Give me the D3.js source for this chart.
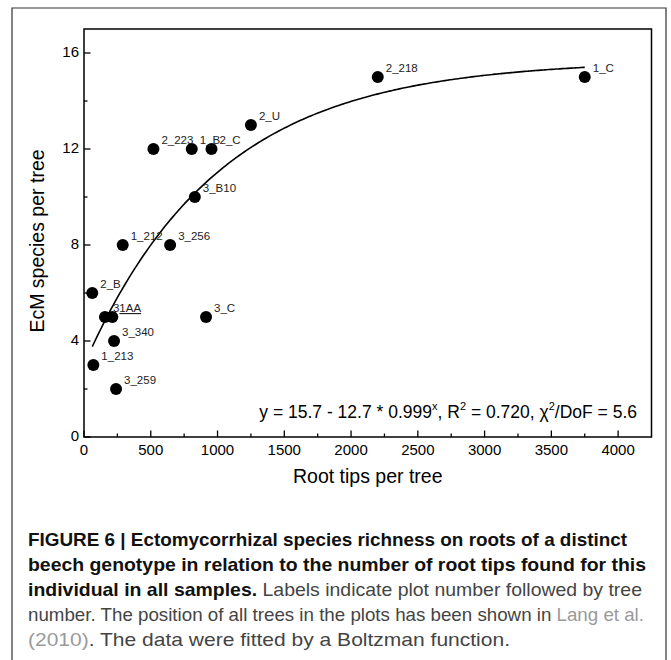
<!DOCTYPE html>
<html>
<head>
  <meta charset="utf-8">
  <script src="https://d3js.org/d3.v7.min.js"></script>
  <style>
    body { margin: 0; background: #fff; }
    svg { display: block; }
    .chart text { font-family: "Liberation Sans", Arial, sans-serif; fill: #000; }
    .caption text { font-family: "Liberation Sans Narrow", "Liberation Sans", Arial, sans-serif; font-size: 18.5px; }
  </style>
</head>
<body>
  <svg id="fig" width="671" height="660"></svg>
  <script>
    // data
    const treeLabels = ["2_218", "1_C", "2_U", "2_223", "1_B", "2_C", "3_B10", "1_212", "3_256", "2_B", "31AA", "", "3_C", "3_340", "1_213", "3_259"];
    const rootTips   = [2200, 3750, 1250, 520, 807, 955, 830, 290, 645, 62, 157, 212, 914, 225, 70, 240];
    const species    = [15, 15, 13, 12, 12, 12, 10, 8, 8, 6, 5, 5, 5, 4, 3, 2];

    const xTicks = [0, 500, 1000, 1500, 2000, 2500, 3000, 3500, 4000];
    const yTicks = [0, 4, 8, 12, 16];

    // Boltzman fit printed on the chart: y = 15.7 - 12.7 * 0.999^x
    const fitA = 15.7, fitB = 12.7, fitBase = 0.999;
    const fitRange = [62, 3750];

    const svg = d3.select("#fig");

    // outer frame (open at the bottom)
    svg.append("path")
      .attr("d", "M12,662 V8 H666 V662")
      .attr("fill", "none")
      .attr("stroke", "#333")
      .attr("stroke-width", 1.2);

    const pLeft = 84, pRight = 651.5, pTop = 29, pBottom = 437;

    const x = d3.scaleLinear().domain([0, 4250]).range([pLeft, pRight]);
    const y = d3.scaleLinear().domain([0, 17]).range([pBottom, pTop]);

    const g = svg.append("g").attr("class", "chart");

    // plot box
    g.append("rect")
      .attr("x", pLeft).attr("y", pTop)
      .attr("width", pRight - pLeft).attr("height", pBottom - pTop)
      .attr("fill", "none").attr("stroke", "#000").attr("stroke-width", 1.5);

    // x axis: inward ticks, minor every 250
    const xAxis = g.append("g").attr("transform", `translate(0,${pBottom})`);
    xAxis.selectAll("line.minor")
      .data(d3.range(250, 4250, 500))
      .join("line")
        .attr("x1", d => x(d)).attr("x2", d => x(d))
        .attr("y1", 0).attr("y2", -3.5)
        .attr("stroke", "#000").attr("stroke-width", 1.3);
    xAxis.selectAll("line.major")
      .data(xTicks)
      .join("line")
        .attr("x1", d => x(d)).attr("x2", d => x(d))
        .attr("y1", 0).attr("y2", -6.5)
        .attr("stroke", "#000").attr("stroke-width", 1.3);
    xAxis.selectAll("text")
      .data(xTicks)
      .join("text")
        .attr("x", d => x(d))
        .attr("y", 17.5)
        .attr("text-anchor", "middle")
        .style("font-size", "15px")
        .text(d => d);

    // y axis: inward ticks, minor every 2
    const yAxis = g.append("g").attr("transform", `translate(${pLeft},0)`);
    yAxis.selectAll("line.minor")
      .data(d3.range(2, 17, 4))
      .join("line")
        .attr("y1", d => y(d)).attr("y2", d => y(d))
        .attr("x1", 0).attr("x2", 3.5)
        .attr("stroke", "#000").attr("stroke-width", 1.3);
    yAxis.selectAll("line.major")
      .data(yTicks)
      .join("line")
        .attr("y1", d => y(d)).attr("y2", d => y(d))
        .attr("x1", 0).attr("x2", 6.5)
        .attr("stroke", "#000").attr("stroke-width", 1.3);
    yAxis.selectAll("text")
      .data(yTicks)
      .join("text")
        .attr("x", -5)
        .attr("y", d => y(d) - 1)
        .attr("dy", "0.35em")
        .attr("text-anchor", "end")
        .style("font-size", "15px")
        .text(d => d);

    // axis titles
    g.append("text")
      .attr("x", (pLeft + pRight) / 2)
      .attr("y", 483)
      .attr("text-anchor", "middle")
      .style("font-size", "19.5px")
      .text("Root tips per tree");
    g.append("text")
      .attr("transform", `translate(44,${(pTop + pBottom) / 2 + 8}) rotate(-90)`)
      .attr("text-anchor", "middle")
      .style("font-size", "19.5px")
      .text("EcM species per tree");

    // fitted curve
    const fitX = d3.range(fitRange[0], fitRange[1], 20).concat([fitRange[1]]);
    const line = d3.line()
      .x(d => x(d))
      .y(d => y(fitA - fitB * Math.pow(fitBase, d)))
      .curve(d3.curveMonotoneX);
    g.append("path")
      .datum(fitX)
      .attr("d", line)
      .attr("fill", "none")
      .attr("stroke", "#000")
      .attr("stroke-width", 1.6);

    // points
    const pts = rootTips.map((v, i) => ({ x: v, y: species[i], label: treeLabels[i] }));
    g.append("g")
      .selectAll("circle")
      .data(pts)
      .join("circle")
        .attr("cx", d => x(d.x))
        .attr("cy", d => y(d.y))
        .attr("r", 6)
        .attr("fill", "#000");

    g.append("g")
      .selectAll("text")
      .data(pts.filter(d => d.label))
      .join("text")
        .attr("x", d => x(d.x) + 8)
        .attr("y", d => y(d.y) - 5)
        .style("font-size", "11.5px")
        .style("fill", "#222")
        .each(function(d) {
          const t = d3.select(this);
          if (d.label === "31AA") {
            t.append("tspan").text("3");
            t.append("tspan").style("text-decoration", "underline").text("1AA");
          } else {
            t.text(d.label);
          }
        });

    // fit equation
    const eq = g.append("text")
      .attr("x", 637)
      .attr("y", 418)
      .attr("text-anchor", "end")
      .style("font-size", "17.5px");
    eq.append("tspan").text("y = 15.7 - 12.7 * 0.999");
    eq.append("tspan").attr("dy", -8).style("font-size", "11px").text("x");
    eq.append("tspan").attr("dy", 8).text(", R");
    eq.append("tspan").attr("dy", -8).style("font-size", "11px").text("2");
    eq.append("tspan").attr("dy", 8).text(" = 0.720, \u03C7");
    eq.append("tspan").attr("dy", -8).style("font-size", "11px").text("2");
    eq.append("tspan").attr("dy", 8).text("/DoF = 5.6");

    // caption
    const cap = svg.append("g").attr("class", "caption");
    const capX = 28;
    const capLines = [
      { y: 546, end: 627, parts: [["FIGURE 6 | Ectomycorrhizal species richness on roots of a distinct", "b"]] },
      { y: 571, end: 646, parts: [["beech genotype in relation to the number of root tips found for this", "b"]] },
      { y: 596, end: 642, parts: [["individual in all samples.", "b"], [" Labels indicate plot number followed by tree", "n"]] },
      { y: 621, end: 644, parts: [["number. The position of all trees in the plots has been shown in ", "n"], ["Lang et al.", "l"]] },
      { y: 646, end: 510, parts: [["(2010)", "l"], [". The data were fitted by a Boltzman function.", "n"]] }
    ];
    capLines.forEach(ln => {
      const t = cap.append("text")
        .attr("x", capX)
        .attr("y", ln.y)
        .attr("textLength", ln.end - capX)
        .attr("lengthAdjust", "spacingAndGlyphs")
        .attr("xml:space", "preserve");
      ln.parts.forEach(([s, k]) => {
        t.append("tspan")
          .style("font-weight", k === "b" ? "bold" : "normal")
          .style("fill", k === "b" ? "#111" : k === "l" ? "#9a9a9a" : "#444")
          .text(s);
      });
    });
  </script>
</body>
</html>
